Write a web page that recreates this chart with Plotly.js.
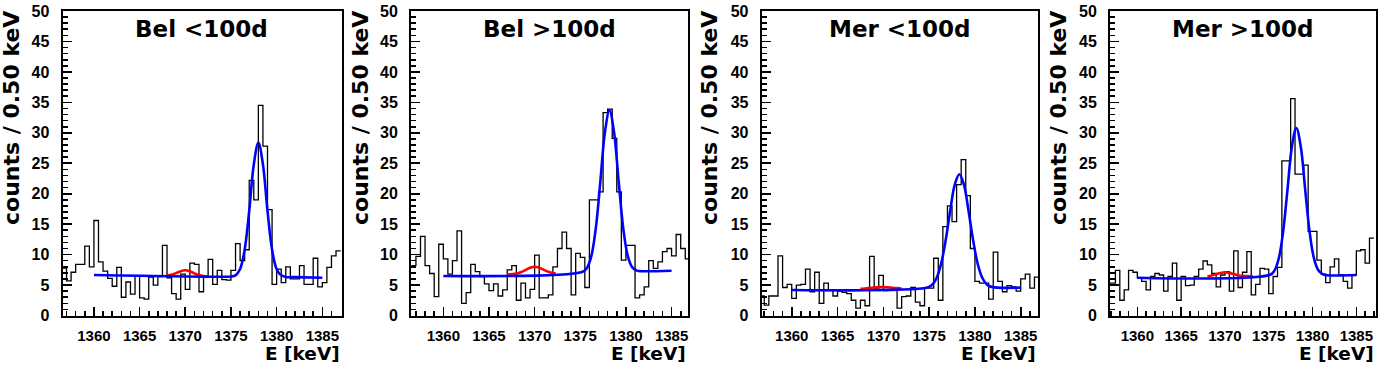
<!DOCTYPE html>
<html>
<head>
<meta charset="utf-8">
<script src="https://cdn.plot.ly/plotly-3.0.1.min.js"></script>
<style>
  html, body { margin: 0; padding: 0; background: #fff; }
  #plot { width: 1396px; height: 372px; }
</style>
</head>
<body>
<div id="plot"></div>
<script>
// Four gamma-line spectra (0.50 keV bins) with peak fits.

const BIN_START = 1356.5;
const BIN_WIDTH = 0.5;

const PANEL_TITLES = ['Bel &lt;100d', 'Bel &gt;100d', 'Mer &lt;100d', 'Mer &gt;100d'];
const X_TITLE = 'E [keV]';
const Y_TITLE = 'counts / 0.50 keV';

// bin contents, first bin starts at BIN_START
const COUNTS_BEL_LT = [
    7.8, 5.7, 7.1, 8.4, 8.4, 11.4, 8.0, 15.6, 8.8, 7.3,
    6.1, 4.8, 7.9, 3.0, 5.5, 3.5, 6.5, 2.9, 2.7, 6.3,
    5.0, 6.4, 11.5, 6.2, 3.6, 2.7, 6.8, 4.3, 8.6, 8.4,
    3.9, 6.4, 9.2, 5.1, 7.4, 5.9, 5.8, 7.4, 11.8, 9.0,
    10.8, 22.2, 19.0, 34.5, 27.8, 17.4, 5.1, 7.6, 5.4, 8.0,
    6.0, 6.0, 8.2, 5.1, 5.1, 9.4, 4.7, 5.4, 7.9, 9.8,
    10.6];
const COUNTS_BEL_GT = [
    8.2, 9.7, 13.0, 8.2, 6.9, 3.1, 11.7, 9.3, 6.8, 9.0,
    13.9, 2.0, 3.75, 8.4, 7.2, 6.4, 5.2, 4.1, 5.2, 3.2,
    4.2, 7.5, 8.2, 2.5, 5.3, 2.9, 4.3, 9.9, 2.9, 2.9,
    3.4, 8.0, 11.0, 13.7, 11.0, 3.4, 10.2, 9.55, 4.6, 19.0,
    19.0, 20.3, 33.3, 33.9, 29.1, 20.3, 9.1, 11.5, 11.5, 2.9,
    3.4, 4.7, 9.0, 7.75, 8.8, 10.5, 11.0, 9.8, 13.3, 11.0,
    9.3];
const COUNTS_MER_LT = [
    3.2, 1.7, 3.2, 3.2, 9.8, 4.6, 5.1, 2.8, 5.0, 5.1,
    7.6, 3.9, 7.1, 2.0, 5.3, 4.2, 3.2, 4.0, 3.8, 3.6,
    2.5, 1.2, 2.5, 1.6, 9.7, 4.5, 6.6, 4.1, 4.2, 4.2,
    1.2, 3.1, 3.2, 4.6, 2.2, 1.6, 4.5, 4.5, 9.4, 2.5,
    14.6, 18.0, 15.4, 21.5, 25.6, 19.7, 11.0, 5.6, 5.3, 5.3,
    2.7, 10.4, 5.6, 3.9, 4.9, 4.7, 4.0, 6.0, 6.8, 4.5,
    6.3];
const COUNTS_MER_GT = [
    5.3, 5.3, 7.4, 2.5, 4.2, 7.4, 7.1, 6.2, 5.6, 4.2,
    6.4, 6.9, 6.65, 4.0, 6.4, 8.6, 2.5, 6.4, 4.9, 5.0,
    6.4, 7.6, 8.95, 8.3, 6.9, 4.7, 6.65, 7.2, 4.0, 10.6,
    4.6, 7.1, 10.5, 3.4, 5.1, 7.75, 7.6, 3.6, 6.4, 7.9,
    25.4, 25.4, 35.6, 23.2, 23.2, 24.7, 13.8, 13.8, 9.1, 6.8,
    5.4, 8.0, 9.3, 6.65, 5.6, 4.5, 6.65, 10.6, 10.8, 8.6,
    12.7];

// full fit (blue)
const FIT_X_BEL_LT = [1360, 1374, 1375, 1375.5, 1376, 1376.5, 1377, 1377.5, 1378, 1378.5, 1379, 1379.5, 1380, 1380.5, 1381, 1382, 1385];
const FIT_Y_BEL_LT = [6.65, 6.36, 6.39, 6.6, 7.64, 10.8, 17.2, 24.8, 28.4, 24.8, 17.2, 10.8, 7.6, 6.6, 6.33, 6.3, 6.2];
const FIT_X_BEL_GT = [1360, 1375.2, 1375.7, 1376.2, 1376.7, 1377.2, 1377.7, 1378.2, 1378.7, 1379.2, 1379.7, 1380.2, 1380.7, 1381.2, 1381.7, 1385];
const FIT_Y_BEL_GT = [6.49, 7.15, 7.74, 9.67, 14.3, 22.0, 30.1, 33.7, 30.1, 22.1, 14.4, 9.8, 7.9, 7.37, 7.27, 7.36];
const FIT_X_MER_LT = [1360, 1374.8, 1375.3, 1375.8, 1376.3, 1376.8, 1377.3, 1377.8, 1378.3, 1378.8, 1379.3, 1379.8, 1380.3, 1380.8, 1381.3, 1381.8, 1385];
const FIT_Y_MER_LT = [4.19, 4.58, 5.0, 6.1, 8.44, 12.3, 17.2, 21.5, 23.2, 21.5, 17.2, 12.4, 8.5, 6.2, 5.1, 4.7, 4.57];
const FIT_X_MER_GT = [1360, 1375.15, 1375.65, 1376.15, 1376.65, 1377.15, 1377.65, 1378.15, 1378.65, 1379.15, 1379.65, 1380.15, 1380.65, 1381.15, 1381.65, 1385];
const FIT_Y_MER_GT = [6.21, 6.68, 7.37, 9.4, 13.85, 20.8, 27.8, 30.8, 27.8, 20.85, 13.9, 9.47, 7.46, 6.78, 6.62, 6.65];

// small line component (red)
const RED_X_BEL_LT = [1368, 1368.5, 1369, 1369.5, 1370, 1370.5, 1371, 1371.5, 1372, 1372.5];
const RED_Y_BEL_LT = [6.57, 6.69, 6.96, 7.28, 7.42, 7.26, 6.92, 6.63, 6.49, 6.43];
const RED_X_BEL_GT = [1367, 1368, 1368.5, 1369, 1369.5, 1370, 1370.5, 1371, 1371.5, 1372, 1372.3];
const RED_Y_BEL_GT = [6.73, 6.88, 7.11, 7.46, 7.83, 8.0, 7.86, 7.5, 7.18, 6.98, 6.92];
const RED_X_MER_LT = [1367.5, 1368, 1368.5, 1369, 1369.5, 1370, 1370.5, 1371, 1371.5, 1372];
const RED_Y_MER_LT = [4.37, 4.43, 4.51, 4.6, 4.66, 4.68, 4.64, 4.56, 4.49, 4.43];
const RED_X_MER_GT = [1368, 1368.5, 1369, 1369.5, 1370, 1370.5, 1371, 1371.5, 1372, 1372.5, 1373.2];
const RED_Y_MER_GT = [6.43, 6.57, 6.78, 6.99, 7.09, 7.0, 6.81, 6.62, 6.5, 6.46, 6.44];

const X_RANGES = [[1356.56, 1387.1], [1356.46, 1386.8], [1356.72, 1386.92], [1356.88, 1387.21]];
const Y_RANGE = [0, 50];

// pad geometry in pixels (canvas 1396 x 372)
const W = 1396, H = 372;
const PAD_LEFT = [0, 349, 698, 1047];
const FRAME_L = [62.5, 411, 761.7, 1110];
const FRAME_R = [341.5, 688, 1038.3, 1375.7];
const FRAME_T = 11, FRAME_B = 315.5;

const TITLE_FONT = { family: 'DejaVu Sans', size: 23, weight: 'bold', color: '#000' };
const AXT_FONT = { family: 'DejaVu Sans', size: 18.5, weight: 'bold', color: '#000' };
const YT_FONT = { family: 'DejaVu Sans', size: 22, weight: 'bold', color: '#000' };
const TICK_FONT = { family: 'Liberation Sans, Arial, sans-serif', size: 15, weight: 'bold', color: '#000' };

const panels = [
    { counts: COUNTS_BEL_LT, fx: FIT_X_BEL_LT, fy: FIT_Y_BEL_LT, rx: RED_X_BEL_LT, ry: RED_Y_BEL_LT },
    { counts: COUNTS_BEL_GT, fx: FIT_X_BEL_GT, fy: FIT_Y_BEL_GT, rx: RED_X_BEL_GT, ry: RED_Y_BEL_GT },
    { counts: COUNTS_MER_LT, fx: FIT_X_MER_LT, fy: FIT_Y_MER_LT, rx: RED_X_MER_LT, ry: RED_Y_MER_LT },
    { counts: COUNTS_MER_GT, fx: FIT_X_MER_GT, fy: FIT_Y_MER_GT, rx: RED_X_MER_GT, ry: RED_Y_MER_GT },
];

const px = x => x / W;
const py = y => 1 - y / H;

function histTrace(counts, n) {
    // step outline: bin low edges plus the last high edge
    const edges = [], vals = [];
    for (let i = 0; i <= counts.length; i++) {
        edges.push(BIN_START + i * BIN_WIDTH);
        vals.push(counts[Math.min(i, counts.length - 1)]);
    }
    return {
        x: edges, y: vals, xaxis: 'x' + n, yaxis: 'y' + n,
        type: 'scatter', mode: 'lines',
        line: { shape: 'hv', color: '#000', width: 1.3 },
        hoverinfo: 'skip', showlegend: false,
    };
}

function curveTrace(xs, ys, color, n) {
    return {
        x: xs, y: ys, xaxis: 'x' + n, yaxis: 'y' + n,
        type: 'scatter', mode: 'lines',
        line: { shape: 'spline', smoothing: 1, color, width: 2.6 },
        hoverinfo: 'skip', showlegend: false,
    };
}

const traces = [];
const layout = {
    width: W, height: H,
    margin: { l: 0, r: 0, t: 0, b: 0 },
    paper_bgcolor: '#fff', plot_bgcolor: '#fff',
    showlegend: false,
    annotations: [],
};

panels.forEach((p, i) => {
    const n = i + 1;
    traces.push(histTrace(p.counts, n));
    traces.push(curveTrace(p.rx, p.ry, '#ff0000', n));
    traces.push(curveTrace(p.fx, p.fy, '#0000ff', n));

    layout['xaxis' + n] = {
        domain: [px(FRAME_L[i]), px(FRAME_R[i])],
        anchor: 'y' + n,
        range: X_RANGES[i],
        tick0: 1360, dtick: 5,
        ticks: 'inside', ticklen: 9, tickwidth: 1.6, tickcolor: '#000',
        minor: { tick0: 1360, dtick: 1, ticks: 'inside', ticklen: 5, tickwidth: 1.6, tickcolor: '#000' },
        ticklabelstandoff: 5,
        tickfont: TICK_FONT,
        showline: true, linecolor: '#000', linewidth: 2, mirror: true,
        showgrid: false, zeroline: false, fixedrange: true,
    };
    layout['yaxis' + n] = {
        domain: [py(FRAME_B), py(FRAME_T)],
        anchor: 'x' + n,
        range: Y_RANGE,
        tick0: 0, dtick: 5,
        ticks: 'inside', ticklen: 9, tickwidth: 1.6, tickcolor: '#000',
        minor: { dtick: 1, ticks: 'inside', ticklen: 5, tickwidth: 1.6, tickcolor: '#000' },
        ticklabelstandoff: 8,
        tickfont: Object.assign({}, TICK_FONT, { size: 16 }),
        showline: true, linecolor: '#000', linewidth: 2, mirror: true,
        showgrid: false, zeroline: false, fixedrange: true,
    };

    layout.annotations.push({
        text: PANEL_TITLES[i], xref: 'paper', yref: 'paper',
        x: px((FRAME_L[i] + FRAME_R[i]) / 2), y: py(29),
        xanchor: 'center', yanchor: 'middle', showarrow: false, font: TITLE_FONT,
    });
    layout.annotations.push({
        text: X_TITLE, xref: 'paper', yref: 'paper',
        x: px(FRAME_R[i] - 1), y: py(353),
        xanchor: 'right', yanchor: 'middle', borderpad: 0, showarrow: false, font: AXT_FONT,
    });
    layout.annotations.push({
        text: Y_TITLE, xref: 'paper', yref: 'paper',
        x: px(PAD_LEFT[i] + 11), y: py(9),
        xanchor: 'center', yanchor: 'top', textangle: -90, showarrow: false, font: YT_FONT,
    });
});

Plotly.newPlot(document.getElementById('plot'), traces, layout,
               { displayModeBar: false, staticPlot: true });
</script>
</body>
</html>
